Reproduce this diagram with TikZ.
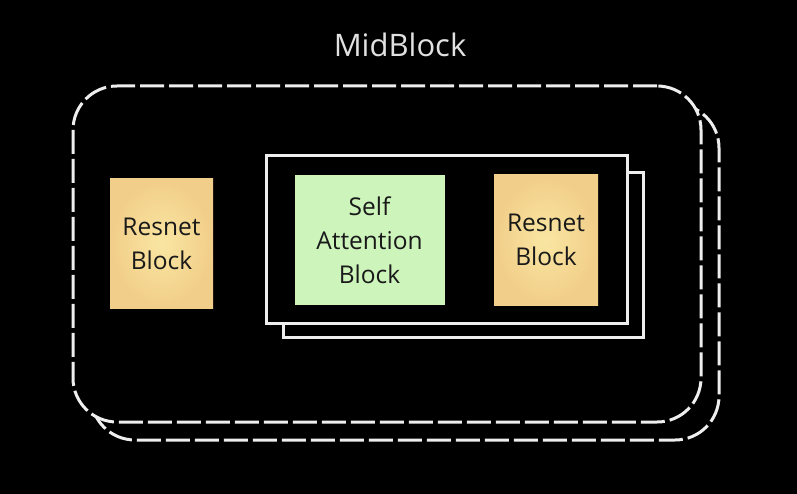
\documentclass[tikz,border=0pt]{standalone}
\usepackage{fontspec}
\setmainfont{Open Sans}
\definecolor{bg}{RGB}{0,0,0}
\definecolor{lineW}{RGB}{238,238,238}
\definecolor{greenfill}{RGB}{205,245,187}
\definecolor{orangein}{RGB}{249,230,162}
\definecolor{orangeout}{RGB}{241,206,137}
\definecolor{txt}{RGB}{25,25,25}
\definecolor{titlec}{RGB}{225,225,225}
\tikzset{
  dashbox/.style={draw=lineW, fill=bg, line width=3pt, rounded corners=44pt,
    dash pattern=on 24pt off 5pt, inner sep=0pt},
  solidbox/.style={draw=lineW, fill=bg, line width=3pt, inner sep=0pt},
  blocktext/.style={text=txt, align=center, font=\fontsize{24.5}{34}\selectfont, inner sep=0pt},
  resbox/.style={blocktext, inner color=orangein, outer color=orangeout},
  attbox/.style={blocktext, fill=greenfill},
}
\begin{document}
\begin{tikzpicture}[x=1pt,y=-1pt]
\fill[bg] (0,0) rectangle (797,494);
\useasboundingbox (0,0) rectangle (797,494);
% outer dashed containers
\node[dashbox, minimum width=628pt, minimum height=336pt] (outerback) at (405,272) {};
\node[dashbox, minimum width=628pt, minimum height=336pt] (outerfront) at (387,254) {};
% inner solid containers
\node[solidbox, minimum width=360pt, minimum height=164pt] (innerback) at (463.5,255) {};
\node[solidbox, minimum width=361pt, minimum height=167pt] (innerfront) at (446.5,239.5) {};
% blocks
\node[resbox, minimum width=103pt, minimum height=129pt] (res1) at (161.5,243.5) {Resnet\\Block};
\node[attbox, minimum width=150pt, minimum height=130pt] (att) at (369.5,240) {Self\\Attention\\Block};
\node[resbox, minimum width=104pt, minimum height=130pt] (res2) at (546,240) {Resnet\\Block};
% title
\node[text=titlec, font=\fontsize{31}{36}\selectfont, inner sep=0pt, anchor=base] (title) at (400,57) {MidBlock};
\end{tikzpicture}
\end{document}
